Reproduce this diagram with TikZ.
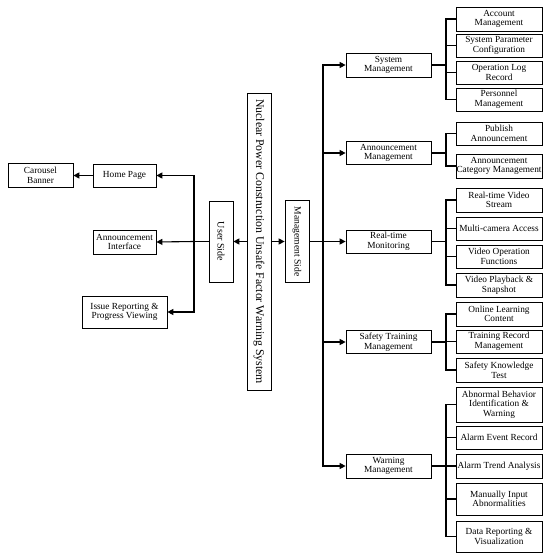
\documentclass[tikz,border=0pt]{standalone}
\usepackage{fontspec}
\setmainfont{Liberation Serif}
\usetikzlibrary{arrows.meta}
\tikzset{
  box/.style={draw, line width=0.7pt, inner sep=0pt, align=center, font=\fontsize{9.3}{9.6}\selectfont},
  vbox/.style={box, rotate=-90},
  conn/.style={line width=1.1pt},
  arr/.style={line width=1.1pt, -{Triangle[length=6pt,width=6pt]}},
}
\newcommand{\mybox}[6]{\node[box, minimum width=#4pt, minimum height=#5pt] (#1) at (#2,#3) {#6};}
\begin{document}
\begin{tikzpicture}[x=1pt,y=-1pt]
\fill[white] (0,0) rectangle (550,559);
\useasboundingbox (0,0) rectangle (550,559);
% left side
\mybox{carousel}{40.5}{175.5}{65}{24}{Carousel\\Banner}
\mybox{home}{124.5}{175.5}{63}{23}{Home Page}
\mybox{annint}{124.5}{242}{63}{24}{Announcement\\Interface}
\mybox{issue}{124.5}{312}{85}{32}{Issue Reporting \&\\Progress Viewing}
\node[vbox, minimum width=81pt, minimum height=24pt, font=\fontsize{10}{11}\selectfont] (user) at (221,241.5) {User Side};
\node[vbox, minimum width=297pt, minimum height=24pt, font=\fontsize{11.8}{13}\selectfont] (main) at (259,241.5) {Nuclear Power Construction Unsafe Factor Warning System};
\node[vbox, minimum width=82pt, minimum height=24pt, font=\fontsize{9.6}{11}\selectfont] (mgmt) at (297,241.5) {Management Side};
% mid level
\mybox{sysm}{388.5}{65}{85}{24}{System\\Management}
\mybox{annm}{388.5}{153}{85}{23}{Announcement\\Management}
\mybox{rtm}{388.5}{241.5}{85}{23}{Real-time\\Monitoring}
\mybox{stm}{388.5}{342}{85}{23}{Safety Training\\Management}
\mybox{wm}{388.5}{466}{85}{24}{Warning\\Management}
% leaves
\mybox{acc}{499}{19}{86}{24}{Account\\Management}
\mybox{spc}{499}{45.5}{86}{23}{System Parameter\\Configuration}
\mybox{olr}{499}{72.5}{86}{23}{Operation Log\\Record}
\mybox{pm}{499}{99.5}{86}{23}{Personnel\\Management}
\mybox{pa}{499}{133.5}{86}{23}{Publish\\Announcement}
\mybox{acm}{499}{166}{86}{24}{Announcement\\Category Management}
\mybox{rvs}{499}{200}{86}{24}{Real-time Video\\Stream}
\mybox{mca}{499}{228.5}{86}{23}{Multi-camera Access}
\mybox{vof}{499}{256.5}{86}{23}{Video Operation\\Functions}
\mybox{vps}{499}{285}{86}{24}{Video Playback \&\\Snapshot}
\mybox{olc}{499}{314}{86}{24}{Online Learning\\Content}
\mybox{trm}{499}{341.5}{86}{23}{Training Record\\Management}
\mybox{skt}{499}{370}{86}{24}{Safety Knowledge\\Test}
\mybox{abi}{499}{404.5}{86}{35}{Abnormal Behavior\\Identification \&\\Warning}
\mybox{aer}{499}{437.5}{86}{23}{Alarm Event Record}
\mybox{ata}{499}{466}{86}{24}{Alarm Trend Analysis}
\mybox{mia}{499}{499}{86}{32}{Manually Input\\Abnormalities}
\mybox{drv}{499}{536.5}{86}{31}{Data Reporting \&\\Visualization}
% connectors left
\coordinate (lt) at (194,241.5);
\draw[conn] (user) -- (lt);
\draw[arr] (lt) |- (home.east);
\draw[arr] (lt) -- (annint.east);
\draw[arr] (lt) |- (issue.east);
\draw[arr] (home.west) -- (carousel.east);
\draw[arr] (main) -- (user);
\draw[arr] (main) -- (mgmt);
% right trunk
\coordinate (rt) at (323,241.5);
\draw[conn] (mgmt) -- (rt);
\draw[arr] (rt) |- (sysm.west);
\draw[arr] (rt) |- (annm.west);
\draw[arr] (rt) -- (rtm.west);
\draw[arr] (rt) |- (stm.west);
\draw[arr] (rt) |- (wm.west);
% sub trunks
\coordinate (s1) at (446,65);
\draw[conn] (sysm.east) -- (s1);
\foreach \n in {acc,spc,olr,pm} \draw[conn] (\n.west) -| (s1);
\coordinate (s2) at (446,153);
\draw[conn] (annm.east) -- (s2);
\foreach \n in {pa,acm} \draw[conn] (\n.west) -| (s2);
\coordinate (s3) at (446,241.5);
\draw[conn] (rtm.east) -- (s3);
\foreach \n in {rvs,mca,vof,vps} \draw[conn] (\n.west) -| (s3);
\coordinate (s4) at (446,342);
\draw[conn] (stm.east) -- (s4);
\foreach \n in {olc,trm,skt} \draw[conn] (\n.west) -| (s4);
\coordinate (s5) at (446,466);
\draw[conn] (wm.east) -- (s5);
\foreach \n in {abi,aer,ata,mia,drv} \draw[conn] (\n.west) -| (s5);
\end{tikzpicture}
\end{document}
